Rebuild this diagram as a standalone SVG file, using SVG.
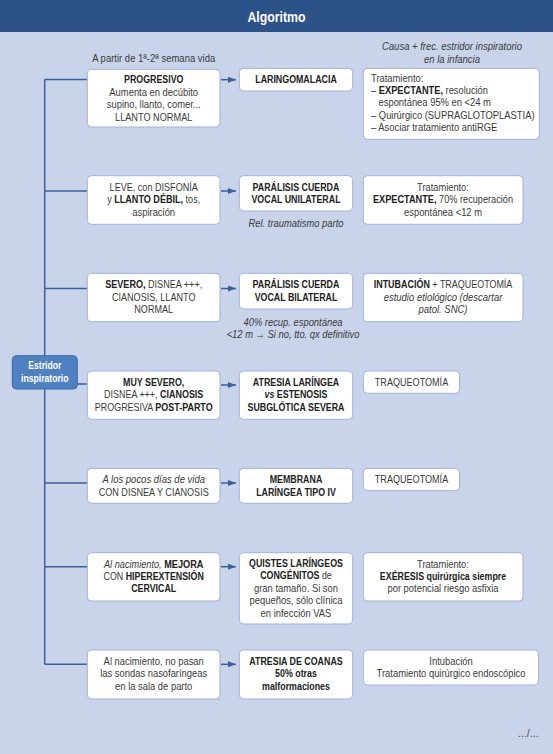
<svg xmlns="http://www.w3.org/2000/svg" width="553" height="754" viewBox="0 0 553 754">
<defs>
<marker id="ah" viewBox="0 0 8 6" refX="8" refY="3" markerWidth="8" markerHeight="6" markerUnits="userSpaceOnUse" orient="auto">
<path d="M0,0 L8,3 L0,6 z" fill="#3b5f9c"/>
</marker>
<style>
text{font-family:"Liberation Sans",Arial,sans-serif;font-size:10.8px;fill:#3a3a3a;text-anchor:middle}
.b{font-weight:bold;fill:#222}
.i{font-style:italic}
.l{text-anchor:start}
.w{fill:#fff}
.box{fill:#fff;stroke:#9fb3da;stroke-width:1}
.ln{fill:none;stroke:#3b5f9c;stroke-width:1.5}
.ar{fill:none;stroke:#3b5f9c;stroke-width:1.5;marker-end:url(#ah)}
</style>
</defs>
<rect x="0" y="0" width="553" height="754" fill="#c9d4eb"/>
<rect x="0" y="0" width="553" height="32" fill="#2d5189"/>
<text transform="translate(276.5,0) scale(0.82,1)" x="0" y="22" class="b w" style="font-size:15px">Algoritmo</text>

<g id="connectors">
<path class="ln" d="M44.7,79.5 V664.3 M44.7,79.5 H87.3 M44.7,191 H87.3 M44.7,288.5 H87.3 M44.7,384 H87.3 M44.7,483 H87.3 M44.7,566.7 H87.3 M44.7,664.3 H87.3"/>
<path class="ar" d="M221,79.7 H236"/>
<path class="ar" d="M221,191 H236"/>
<path class="ar" d="M221,288.5 H236"/>
<path class="ar" d="M221,385 H236"/>
<path class="ar" d="M221,483 H236"/>
<path class="ar" d="M221,566.7 H236"/>
<path class="ar" d="M221,664.3 H236"/>
</g>

<g id="notes">
<text transform="translate(153.7,0) scale(0.88,1)" x="0" y="62">A partir de 1ª-2ª semana vida</text>
<text transform="translate(452,0) scale(0.88,1)" x="0" y="50" class="i">Causa + frec. estridor inspiratorio</text>
<text transform="translate(452,0) scale(0.88,1)" x="0" y="63.5" class="i">en la infancia</text>
<text transform="translate(296,0) scale(0.87,1)" x="0" y="226.7" class="i">Rel. traumatismo parto</text>
<text transform="translate(293,0) scale(0.87,1)" x="0" y="326" class="i">40% recup. espontánea</text>
<text transform="translate(293,0) scale(0.87,1)" x="0" y="338.5" class="i">&lt;12 m → Si no, tto. qx definitivo</text>
<text transform="translate(539,0) scale(0.87,1)" x="0" y="737" style="text-anchor:end">…/…</text>
</g>

<g id="estridor">
<rect x="12.3" y="355.7" width="65" height="33.3" rx="4" fill="#4f80c1" stroke="#3d6aab"/>
<text transform="translate(44.8,0) scale(0.8,1)" x="0" y="369.5" class="b w">Estridor</text>
<text transform="translate(44.8,0) scale(0.8,1)" x="0" y="382" class="b w">inspiratorio</text>
</g>

<g id="progresivo">
<rect class="box" x="87.3" y="69.3" width="132.7" height="57.7" rx="4"/>
<text transform="translate(153.7,0) scale(0.82,1)" x="0" y="83.5" class="b">PROGRESIVO</text>
<text transform="translate(153.7,0) scale(0.87,1)" x="0" y="96">Aumenta en decúbito</text>
<text transform="translate(153.7,0) scale(0.87,1)" x="0" y="108.3">supino, llanto, comer...</text>
<text transform="translate(153.7,0) scale(0.85,1)" x="0" y="120.7">LLANTO NORMAL</text>
</g>
<g id="laringomalacia">
<rect class="box" x="239.3" y="68.3" width="113.4" height="22.7" rx="4"/>
<text transform="translate(296,0) scale(0.82,1)" x="0" y="83.3" class="b">LARINGOMALACIA</text>
</g>
<g id="trat-laringomalacia">
<rect class="box" x="363.3" y="68.3" width="176" height="71" rx="4"/>
<text transform="translate(371,0) scale(0.87,1)" x="0" y="82" class="l">Tratamiento:</text>
<text transform="translate(371,0) scale(0.86,1)" x="0" y="94.2" class="l">– <tspan class="b">EXPECTANTE,</tspan> resolución</text>
<text transform="translate(378.5,0) scale(0.87,1)" x="0" y="106.4" class="l">espontánea 95% en &lt;24 m</text>
<text transform="translate(371,0) scale(0.87,1)" x="0" y="118.6" class="l">– Quirúrgico (SUPRAGLOTOPLASTIA)</text>
<text transform="translate(371,0) scale(0.87,1)" x="0" y="130.8" class="l">– Asociar tratamiento antiRGE</text>
</g>

<g id="leve">
<rect class="box" x="87.3" y="175.7" width="132.7" height="48.6" rx="4"/>
<text transform="translate(153.7,0) scale(0.84,1)" x="0" y="191">LEVE, con DISFONÍA</text>
<text transform="translate(153.7,0) scale(0.84,1)" x="0" y="203.5">y <tspan class="b">LLANTO DÉBIL,</tspan> tos,</text>
<text transform="translate(153.7,0) scale(0.87,1)" x="0" y="216">aspiración</text>
</g>
<g id="paralisis-unilateral">
<rect class="box" x="239.3" y="175.7" width="113.4" height="35.3" rx="4"/>
<text transform="translate(296,0) scale(0.82,1)" x="0" y="191" class="b">PARÁLISIS CUERDA</text>
<text transform="translate(296,0) scale(0.82,1)" x="0" y="203.5" class="b">VOCAL UNILATERAL</text>
</g>
<g id="trat-unilateral">
<rect class="box" x="363.3" y="175.7" width="159.7" height="48.6" rx="4"/>
<text transform="translate(443,0) scale(0.86,1)" x="0" y="191">Tratamiento:</text>
<text transform="translate(443,0) scale(0.85,1)" x="0" y="203.5"><tspan class="b">EXPECTANTE,</tspan> 70% recuperación</text>
<text transform="translate(443,0) scale(0.87,1)" x="0" y="216">espontánea &lt;12 m</text>
</g>

<g id="severo">
<rect class="box" x="87.3" y="273.3" width="132.7" height="48.4" rx="4"/>
<text transform="translate(153.7,0) scale(0.84,1)" x="0" y="288.5"><tspan class="b">SEVERO,</tspan> DISNEA +++,</text>
<text transform="translate(153.7,0) scale(0.84,1)" x="0" y="301">CIANOSIS, LLANTO</text>
<text transform="translate(153.7,0) scale(0.84,1)" x="0" y="313.5">NORMAL</text>
</g>
<g id="paralisis-bilateral">
<rect class="box" x="239.3" y="273.3" width="113.4" height="35.7" rx="4"/>
<text transform="translate(296,0) scale(0.82,1)" x="0" y="288.5" class="b">PARÁLISIS CUERDA</text>
<text transform="translate(296,0) scale(0.82,1)" x="0" y="301" class="b">VOCAL BILATERAL</text>
</g>
<g id="trat-bilateral">
<rect class="box" x="363.3" y="273.3" width="159.7" height="48.4" rx="4"/>
<text transform="translate(443,0) scale(0.83,1)" x="0" y="288.5"><tspan class="b">INTUBACIÓN</tspan> + TRAQUEOTOMÍA</text>
<text transform="translate(443,0) scale(0.88,1)" x="0" y="301" class="i">estudio etiológico (descartar</text>
<text transform="translate(443,0) scale(0.88,1)" x="0" y="313.5" class="i">patol. SNC)</text>
</g>

<g id="muy-severo">
<rect class="box" x="87.3" y="371" width="132.7" height="48.3" rx="4"/>
<text transform="translate(153.7,0) scale(0.82,1)" x="0" y="386" class="b">MUY SEVERO,</text>
<text transform="translate(153.7,0) scale(0.83,1)" x="0" y="398.5">DISNEA +++, <tspan class="b">CIANOSIS</tspan></text>
<text transform="translate(153.7,0) scale(0.83,1)" x="0" y="411">PROGRESIVA <tspan class="b">POST-PARTO</tspan></text>
</g>
<g id="atresia-laringea">
<rect class="box" x="239.3" y="371" width="113.4" height="48.3" rx="4"/>
<text transform="translate(296,0) scale(0.82,1)" x="0" y="386" class="b">ATRESIA LARÍNGEA</text>
<text transform="translate(296,0) scale(0.82,1)" x="0" y="398.5" class="b"><tspan class="i">vs</tspan> ESTENOSIS</text>
<text transform="translate(296,0) scale(0.82,1)" x="0" y="411" class="b">SUBGLÓTICA SEVERA</text>
</g>
<g id="traqueotomia-1">
<rect class="box" x="363.3" y="371" width="96.3" height="22.3" rx="4"/>
<text transform="translate(411.5,0) scale(0.84,1)" x="0" y="386">TRAQUEOTOMÍA</text>
</g>

<g id="pocos-dias">
<rect class="box" x="87.3" y="468.3" width="132.7" height="35" rx="4"/>
<text transform="translate(153.7,0) scale(0.88,1)" x="0" y="483.3" class="i">A los pocos días de vida</text>
<text transform="translate(153.7,0) scale(0.84,1)" x="0" y="495.7">CON DISNEA Y CIANOSIS</text>
</g>
<g id="membrana">
<rect class="box" x="239.3" y="468.3" width="113.4" height="35" rx="4"/>
<text transform="translate(296,0) scale(0.82,1)" x="0" y="483.3" class="b">MEMBRANA</text>
<text transform="translate(296,0) scale(0.82,1)" x="0" y="495.7" class="b">LARÍNGEA TIPO IV</text>
</g>
<g id="traqueotomia-2">
<rect class="box" x="363.3" y="468.3" width="96.3" height="22.4" rx="4"/>
<text transform="translate(411.5,0) scale(0.84,1)" x="0" y="483.3">TRAQUEOTOMÍA</text>
</g>

<g id="hiperextension">
<rect class="box" x="87.3" y="552.7" width="132.7" height="48.3" rx="4"/>
<text transform="translate(153.7,0) scale(0.85,1)" x="0" y="567.7"><tspan class="i">Al nacimiento,</tspan> <tspan class="b">MEJORA</tspan></text>
<text transform="translate(153.7,0) scale(0.82,1)" x="0" y="580">CON <tspan class="b">HIPEREXTENSIÓN</tspan></text>
<text transform="translate(153.7,0) scale(0.82,1)" x="0" y="592.5" class="b">CERVICAL</text>
</g>
<g id="quistes">
<rect class="box" x="239.3" y="552.7" width="113.4" height="71.3" rx="4"/>
<text transform="translate(296,0) scale(0.82,1)" x="0" y="567" class="b">QUISTES LARÍNGEOS</text>
<text transform="translate(296,0) scale(0.82,1)" x="0" y="579.5"><tspan class="b">CONGÉNITOS</tspan> de</text>
<text transform="translate(296,0) scale(0.87,1)" x="0" y="592">gran tamaño. Si son</text>
<text transform="translate(296,0) scale(0.87,1)" x="0" y="604.5">pequeños, sólo clínica</text>
<text transform="translate(296,0) scale(0.87,1)" x="0" y="617">en infección VAS</text>
</g>
<g id="trat-quistes">
<rect class="box" x="363.3" y="552.7" width="159.7" height="48.3" rx="4"/>
<text transform="translate(443,0) scale(0.86,1)" x="0" y="567.7">Tratamiento:</text>
<text transform="translate(443,0) scale(0.82,1)" x="0" y="580" class="b">EXÉRESIS quirúrgica siempre</text>
<text transform="translate(443,0) scale(0.87,1)" x="0" y="592.5">por potencial riesgo asfixia</text>
</g>

<g id="sondas">
<rect class="box" x="87.3" y="650" width="132.7" height="49" rx="4"/>
<text transform="translate(153.7,0) scale(0.87,1)" x="0" y="665">Al nacimiento, no pasan</text>
<text transform="translate(153.7,0) scale(0.87,1)" x="0" y="677.5">las sondas nasofaríngeas</text>
<text transform="translate(153.7,0) scale(0.87,1)" x="0" y="690">en la sala de parto</text>
</g>
<g id="atresia-coanas">
<rect class="box" x="239.3" y="650" width="113.4" height="49" rx="4"/>
<text transform="translate(296,0) scale(0.82,1)" x="0" y="665" class="b">ATRESIA DE COANAS</text>
<text transform="translate(296,0) scale(0.82,1)" x="0" y="677.5" class="b">50% otras</text>
<text transform="translate(296,0) scale(0.82,1)" x="0" y="690" class="b">malformaciones</text>
</g>
<g id="trat-coanas">
<rect class="box" x="363.3" y="650" width="175.3" height="35" rx="4"/>
<text transform="translate(451,0) scale(0.87,1)" x="0" y="665">Intubación</text>
<text transform="translate(451,0) scale(0.87,1)" x="0" y="677.5">Tratamiento quirúrgico endoscópico</text>
</g>
</svg>
